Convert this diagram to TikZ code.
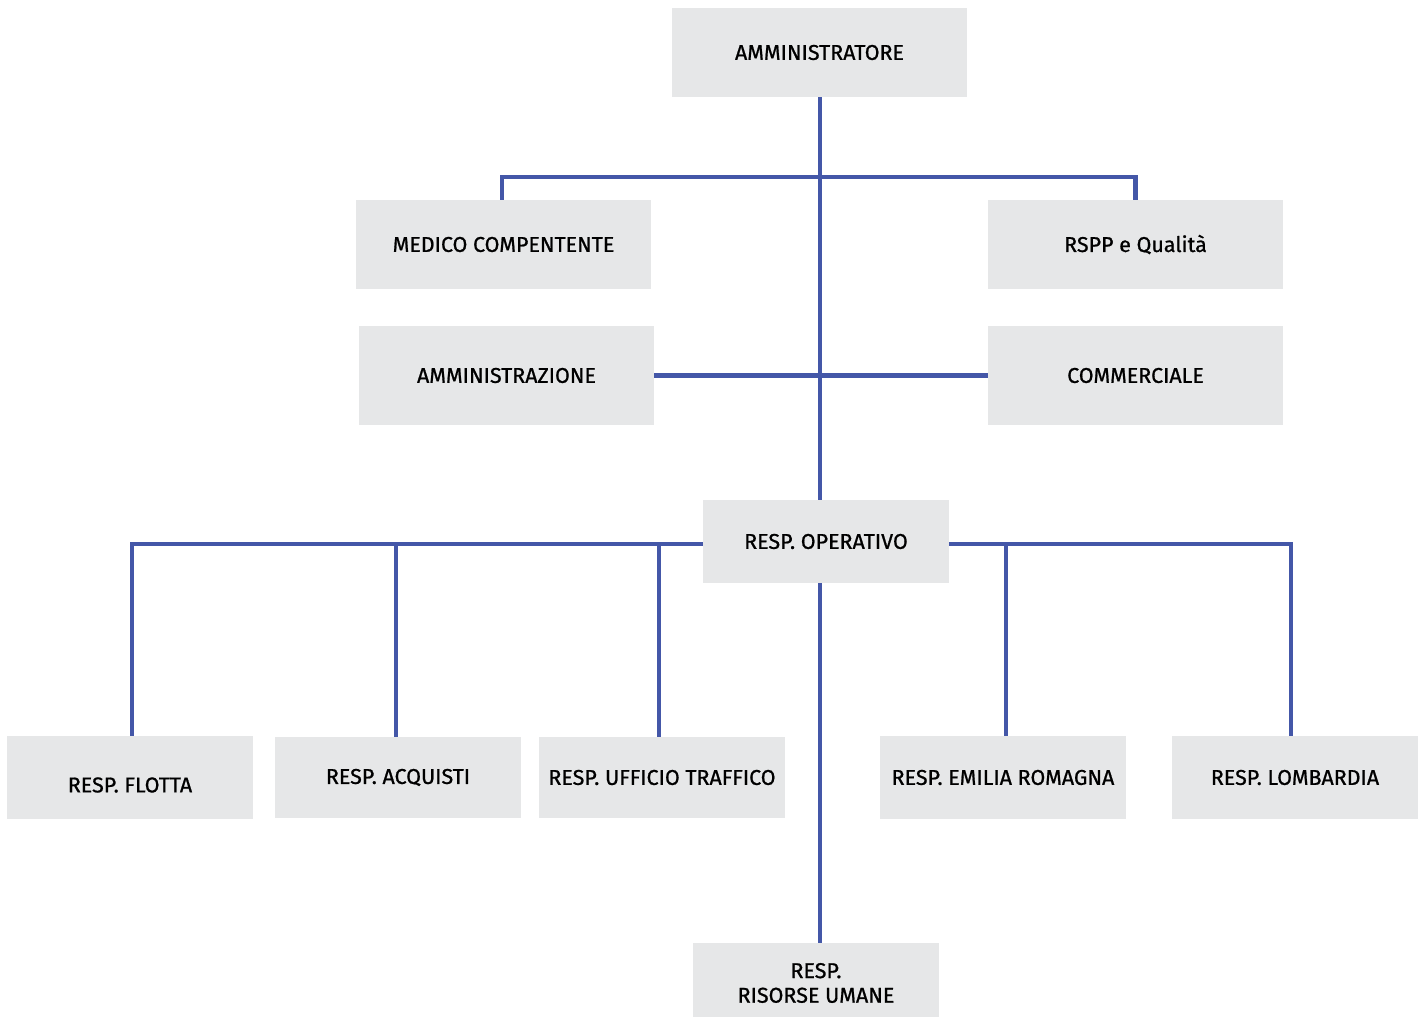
\documentclass[tikz,border=0pt]{standalone}
\usepackage{fontspec}
\setmainfont{Fira Sans}
\definecolor{boxgray}{HTML}{E6E7E8}
\definecolor{lineblue}{HTML}{4457A8}
\begin{document}
\begin{tikzpicture}[x=0.02cm,y=-0.02cm,
  lbl/.style={inner sep=0pt,align=center,font=\fontsize{12.2}{14}\selectfont\addfontfeatures{FakeBold=0.9}},
  box/.style={lbl,fill=boxgray,draw=none},
  wide/.style={box,minimum width=5.9cm,minimum height=1.78cm},
  small/.style={box,minimum width=4.92cm,minimum height=1.66cm},
  conn/.style={draw=lineblue,line width=2.3pt}]
\useasboundingbox (0,0) rectangle (1424,1017);
\node[wide] (adm) at (819.5,52.5) {AMMINISTRATORE};
\node[wide] (med) at (503.5,244.5) {MEDICO COMPENTENTE};
\node[wide] (rspp) at (1135.5,244.5) {RSPP e Qualità};
\node[wide,minimum height=1.98cm] (amz) at (506.5,375.5) {AMMINISTRAZIONE};
\node[wide,minimum height=1.98cm] (com) at (1135.5,375.5) {COMMERCIALE};
\node[small] (op) at (826,541.5) {RESP. OPERATIVO};
\node[small] (flotta) at (130,777.5) {};
\node[lbl] (flottatxt) at (130,785) {RESP. FLOTTA};
\node[small,minimum height=1.62cm] (acq) at (398,777.5) {RESP. ACQUISTI};
\node[small,minimum height=1.62cm] (traf) at (662,777.5) {RESP. UFFICIO TRAFFICO};
\node[small] (emi) at (1003,777.5) {RESP. EMILIA ROMAGNA};
\node[small] (lom) at (1295,777.5) {RESP. LOMBARDIA};
\node[small,minimum height=1.48cm] (hr) at (816,980) {};
\node[lbl] (hrtxt) at (816,983) {RESP.\\RISORSE UMANE};
\coordinate (mainx) at (820,0);
\coordinate (opy) at (0,544);
\coordinate (xa) at (132,0);
\coordinate (xb) at (396,0);
\coordinate (xc) at (659,0);
\coordinate (xd) at (1006,0);
\coordinate (xe) at (1291,0);
\draw[conn] (adm.south -| mainx) -- (op.north -| mainx);
\draw[conn] (med.north -| 502,0) -- ++(0,-23) -| (rspp.north);
\draw[conn] (amz.east) -- (com.west);
\draw[conn] (op.west |- opy) -- (xa |- opy) -- (xa |- flotta.north);
\draw[conn] (xb |- acq.north) -- (xb |- opy);
\draw[conn] (xc |- traf.north) -- (xc |- opy);
\draw[conn] (op.east |- opy) -- (xe |- opy) -- (xe |- lom.north);
\draw[conn] (xd |- emi.north) -- (xd |- opy);
\draw[conn] (op.south -| mainx) -- (hr.north -| mainx);
\end{tikzpicture}
\end{document}
